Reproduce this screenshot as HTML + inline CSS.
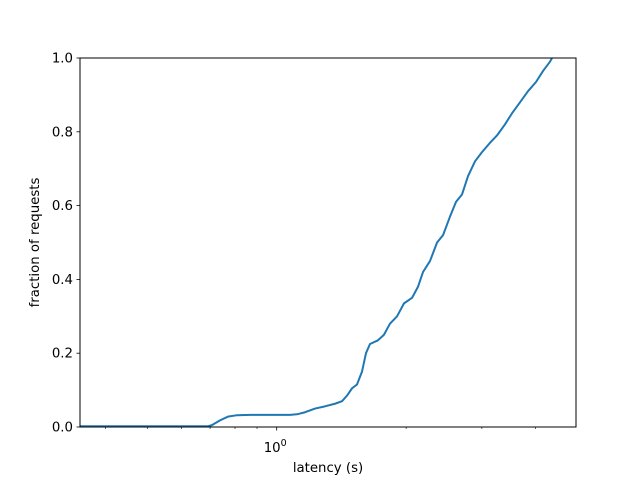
<!DOCTYPE html>
<html><head><meta charset="utf-8"><style>
html,body{margin:0;padding:0;background:#fff;}
svg{display:block;font-family:"DejaVu Sans","Liberation Sans",sans-serif;}
</style></head><body>
<svg id="chart" width="640" height="480"></svg>
<script>
const xValues=[0.349,0.692,0.707,0.738,0.770,0.809,0.867,1.074,1.121,1.164,1.228,1.295,1.366,1.419,1.457,1.497,1.537,1.579,1.613,1.648,1.720,1.776,1.834,1.905,1.977,2.064,2.131,2.189,2.273,2.360,2.437,2.529,2.612,2.697,2.786,2.892,3.002,3.133,3.253,3.395,3.525,3.680,3.841,4.009,4.163,4.321,4.368];
const yValues=[0.002,0.002,0.005,0.018,0.028,0.032,0.033,0.033,0.035,0.040,0.050,0.056,0.063,0.070,0.085,0.105,0.115,0.150,0.200,0.225,0.235,0.250,0.280,0.300,0.335,0.350,0.380,0.420,0.450,0.500,0.520,0.570,0.610,0.630,0.680,0.720,0.745,0.770,0.790,0.820,0.850,0.880,0.910,0.935,0.965,0.990,1.000];
const yTicks=[0,0.2,0.4,0.6,0.8,1.0];
const yTickLabels=["0.0","0.2","0.4","0.6","0.8","1.0"];
const xMinorTicks=[0.4,0.5,0.6,0.7,0.8,0.9,2,3,4];
const NS="http://www.w3.org/2000/svg";
const svg=document.getElementById('chart');
const L=80,R=576,T=58,B=427;
const x1px=276.7,decade=430;
const xs=v=>x1px+Math.log10(v)*decade;
const ys=v=>B-(B-T)*v;
function mk(tag,attrs){const e=document.createElementNS(NS,tag);for(const k in attrs)e.setAttribute(k,attrs[k]);svg.appendChild(e);return e;}
// clip
const defs=mk('defs',{});
const cp=document.createElementNS(NS,'clipPath');cp.setAttribute('id','clip');
const cr=document.createElementNS(NS,'rect');cr.setAttribute('x',L);cr.setAttribute('y',T);cr.setAttribute('width',R-L);cr.setAttribute('height',B-T);
cp.appendChild(cr);defs.appendChild(cp);
// line
let d='';xValues.forEach((v,i)=>{d+=(i?'L':'M')+xs(v).toFixed(2)+','+ys(yValues[i]).toFixed(2);});
const line=mk('path',{d:d,fill:'none',stroke:'#1f77b4','stroke-width':2,'stroke-linejoin':'round','clip-path':'url(#clip)'});


// frame
const frame=mk('rect',{x:L,y:T,width:R-L,height:B-T,fill:'none',stroke:'#000','stroke-width':1});


// y ticks
yTicks.forEach((t,i)=>{
 const y=ys(t);
 mk('line',{x1:L-3.5,x2:L,y1:y,y2:y,stroke:'#000','stroke-width':0.8});
 const tx=mk('text',{x:L-7,y:y+4.5,'text-anchor':'end','font-size':'13.3px',fill:'#000'});
 tx.textContent=yTickLabels[i];
 
 
});
// x ticks
mk('line',{x1:xs(1),x2:xs(1),y1:B,y2:B+3.5,stroke:'#000','stroke-width':0.8});
xMinorTicks.forEach(v=>{const x=xs(v);mk('line',{x1:x,x2:x,y1:B,y2:B+2,stroke:'#000','stroke-width':0.6});});
const xl=mk('text',{x:xs(1)-13,y:452,'font-size':'13.3px',fill:'#000'});
xl.innerHTML='10<tspan dy="-6" font-size="9.5px">0</tspan>';


const xt=mk('text',{x:(L+R)/2,y:472,'text-anchor':'middle','font-size':'13.3px',fill:'#000'});
xt.textContent='latency (s)';


const yt=mk('text',{x:0,y:0,'text-anchor':'middle','font-size':'13.3px',fill:'#000',transform:'translate(39,'+((T+B)/2)+') rotate(-90)'});
yt.textContent='fraction of requests';


</script>
</body></html>
